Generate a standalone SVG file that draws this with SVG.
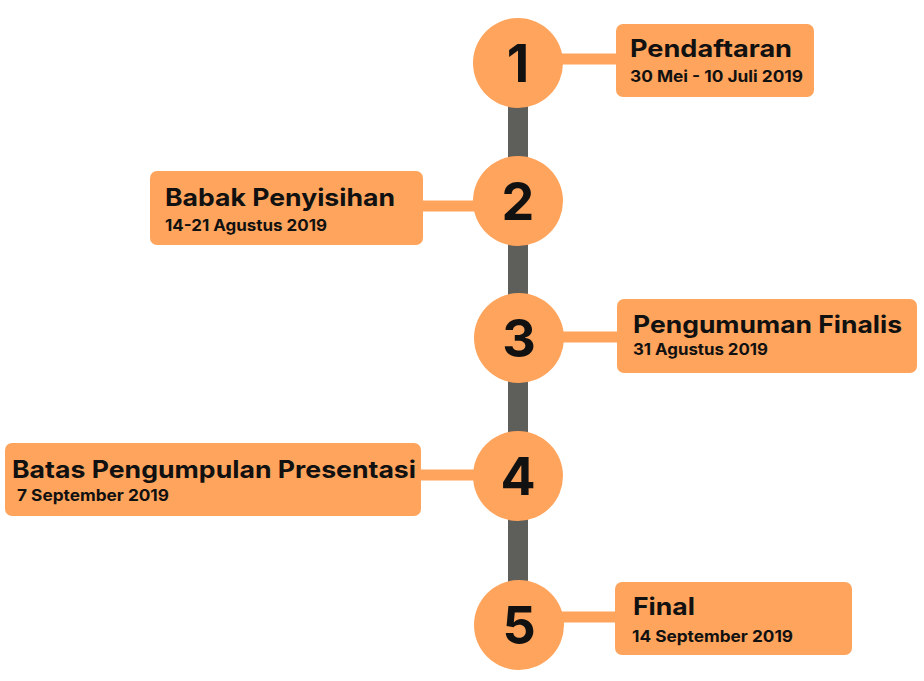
<svg xmlns="http://www.w3.org/2000/svg" width="924" height="681" viewBox="0 0 924 681">
<style>
.box{fill:#FFA45C}
.circ{fill:#FFA45C}
.link{stroke:#FFA45C;stroke-width:11}
.bar{fill:#5E5E5A}
.t{font-family:Inter,"Noto Sans",sans-serif;font-weight:700;fill:#111}
.title{font-size:24px}
.sub{font-size:16px}
.num{font-size:52px;text-anchor:middle}
</style>
<rect width="924" height="681" fill="#fff"/>
<rect class="bar" x="508" y="95" width="20" height="500"/>
<g id="connectors">
<line class="link" x1="540" y1="59" x2="620" y2="59"/>
<line class="link" x1="418" y1="206" x2="500" y2="206"/>
<line class="link" x1="540" y1="337" x2="620" y2="337"/>
<line class="link" x1="416" y1="475" x2="500" y2="475"/>
<line class="link" x1="540" y1="617" x2="620" y2="617"/>
</g>
<g id="node1">
<circle class="circ" cx="518" cy="63" r="45"/>
<text class="t num" x="518" y="82">1</text>
<rect class="box" x="616" y="24" width="198" height="73" rx="7"/>
<text class="t title" x="630" y="57" textLength="162" lengthAdjust="spacingAndGlyphs">Pendaftaran</text>
<text class="t sub" x="630" y="82" textLength="173" lengthAdjust="spacingAndGlyphs">30 Mei - 10 Juli 2019</text>
</g>
<g id="node2">
<circle class="circ" cx="518" cy="201" r="45"/>
<text class="t num" x="518" y="220">2</text>
<rect class="box" x="150" y="171" width="273" height="74" rx="7"/>
<text class="t title" x="165" y="206" textLength="230" lengthAdjust="spacingAndGlyphs">Babak Penyisihan</text>
<text class="t sub" x="165" y="231" textLength="162" lengthAdjust="spacingAndGlyphs">14-21 Agustus 2019</text>
</g>
<g id="node3">
<circle class="circ" cx="519" cy="338" r="45"/>
<text class="t num" x="519" y="357">3</text>
<rect class="box" x="617" y="299" width="300" height="74" rx="7"/>
<text class="t title" x="633" y="333" textLength="269" lengthAdjust="spacingAndGlyphs">Pengumuman Finalis</text>
<text class="t sub" x="633" y="355" textLength="135" lengthAdjust="spacingAndGlyphs">31 Agustus 2019</text>
</g>
<g id="node4">
<circle class="circ" cx="518" cy="476" r="45"/>
<text class="t num" x="518" y="495">4</text>
<rect class="box" x="5" y="443" width="416" height="73" rx="7"/>
<text class="t title" x="12" y="478" textLength="404" lengthAdjust="spacingAndGlyphs">Batas Pengumpulan Presentasi</text>
<text class="t sub" x="17" y="501" textLength="152" lengthAdjust="spacingAndGlyphs">7 September 2019</text>
</g>
<g id="node5">
<circle class="circ" cx="519" cy="625" r="45"/>
<text class="t num" x="519" y="644">5</text>
<rect class="box" x="615" y="582" width="237" height="73" rx="7"/>
<text class="t title" x="633" y="615" textLength="62" lengthAdjust="spacingAndGlyphs">Final</text>
<text class="t sub" x="632" y="642" textLength="161" lengthAdjust="spacingAndGlyphs">14 September 2019</text>
</g>
</svg>
